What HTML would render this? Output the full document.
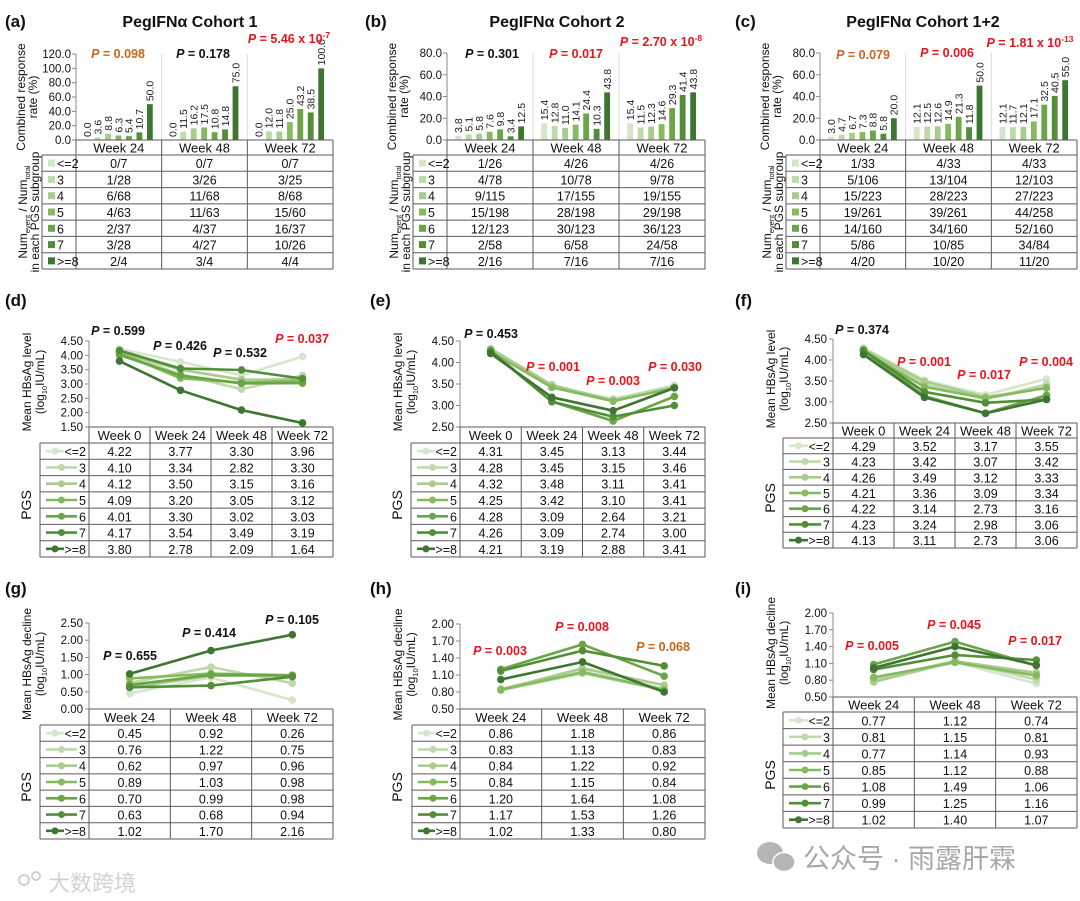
<!DOCTYPE html>
<html><head><meta charset="utf-8">
<style>
html,body{margin:0;padding:0;background:#fff;}
svg{display:block;font-family:"Liberation Sans","Noto Sans CJK SC",sans-serif;}
</style></head>
<body>
<svg id="fig" width="1080" height="901" viewBox="0 0 1080 901" xmlns="http://www.w3.org/2000/svg"></svg>
<script>
// ---------- shared categories ----------
const groups = ['<=2','3','4','5','6','7','>=8'];
const weeks3 = ['Week 24','Week 48','Week 72'];
const weeks4 = ['Week 0','Week 24','Week 48','Week 72'];

// ---------- panel (a) ----------
const aWk24 = [0.0,3.6,8.8,6.3,5.4,10.7,50.0];
const aWk48 = [0.0,11.5,16.2,17.5,10.8,14.8,75.0];
const aWk72 = [0.0,12.0,11.8,25.0,43.2,38.5,100.0];
const aCnt24 = ['0/7','1/28','6/68','4/63','2/37','3/28','2/4'];
const aCnt48 = ['0/7','3/26','11/68','11/63','4/37','4/27','3/4'];
const aCnt72 = ['0/7','3/25','8/68','15/60','16/37','10/26','4/4'];
const aTicks = [0,20,40,60,80,100,120];
// ---------- panel (b) ----------
const bWk24 = [3.8,5.1,5.8,7.6,9.8,3.4,12.5];
const bWk48 = [15.4,12.8,11.0,14.1,24.4,10.3,43.8];
const bWk72 = [15.4,11.5,12.3,14.6,29.3,41.4,43.8];
const bCnt24 = ['1/26','4/78','9/115','15/198','12/123','2/58','2/16'];
const bCnt48 = ['4/26','10/78','17/155','28/198','30/123','6/58','7/16'];
const bCnt72 = ['4/26','9/78','19/155','29/198','36/123','24/58','7/16'];
const bTicks = [0,20,40,60,80];
// ---------- panel (c) ----------
const cWk24 = [3.0,4.7,6.7,7.3,8.8,5.8,20.0];
const cWk48 = [12.1,12.5,12.6,14.9,21.3,11.8,50.0];
const cWk72 = [12.1,11.7,12.1,17.1,32.5,40.5,55.0];
const cCnt24 = ['1/33','5/106','15/223','19/261','14/160','5/86','4/20'];
const cCnt48 = ['4/33','13/104','28/223','39/261','34/160','10/85','10/20'];
const cCnt72 = ['4/33','12/103','27/223','44/258','52/160','34/84','11/20'];
const cTicks = [0,20,40,60,80];
// ---------- panel (d) HBsAg level cohort 1 (rows = PGS groups) ----------
const dVals = [[4.22,3.77,3.30,3.96],[4.10,3.34,2.82,3.30],[4.12,3.50,3.15,3.16],[4.09,3.20,3.05,3.12],[4.01,3.30,3.02,3.03],[4.17,3.54,3.49,3.19],[3.80,2.78,2.09,1.64]];
const dTicks = [1.5,2.0,2.5,3.0,3.5,4.0,4.5];
// ---------- panel (e) ----------
const eVals = [[4.31,3.45,3.13,3.44],[4.28,3.45,3.15,3.46],[4.32,3.48,3.11,3.41],[4.25,3.42,3.10,3.41],[4.28,3.09,2.64,3.21],[4.26,3.09,2.74,3.00],[4.21,3.19,2.88,3.41]];
const eTicks = [2.5,3.0,3.5,4.0,4.5];
// ---------- panel (f) ----------
const fVals = [[4.29,3.52,3.17,3.55],[4.23,3.42,3.07,3.42],[4.26,3.49,3.12,3.33],[4.21,3.36,3.09,3.34],[4.22,3.14,2.73,3.16],[4.23,3.24,2.98,3.06],[4.13,3.11,2.73,3.06]];
const fTicks = [2.5,3.0,3.5,4.0,4.5];
// ---------- panel (g) HBsAg decline ----------
const gVals = [[0.45,0.92,0.26],[0.76,1.22,0.75],[0.62,0.97,0.96],[0.89,1.03,0.98],[0.70,0.99,0.98],[0.63,0.68,0.94],[1.02,1.70,2.16]];
const gTicks = [0,0.5,1.0,1.5,2.0,2.5];
// ---------- panel (h) ----------
const hVals = [[0.86,1.18,0.86],[0.83,1.13,0.83],[0.84,1.22,0.92],[0.84,1.15,0.84],[1.20,1.64,1.08],[1.17,1.53,1.26],[1.02,1.33,0.80]];
const hTicks = [0.5,0.8,1.1,1.4,1.7,2.0];
// ---------- panel (i) ----------
const iVals = [[0.77,1.12,0.74],[0.81,1.15,0.81],[0.77,1.14,0.93],[0.85,1.12,0.88],[1.08,1.49,1.06],[0.99,1.25,1.16],[1.02,1.40,1.07]];
const iTicks = [0.5,0.8,1.1,1.4,1.7,2.0];

const GREENS = ['#d6e6cc','#bfd9ac','#a7cc8e','#86ba5f','#6aa546','#528e38','#3f7532'];
const RED = '#e8141b', ORANGE = '#c8651b', BLACK = '#111';
const svg = document.getElementById('fig');
const NS = 'http://www.w3.org/2000/svg';

function mk(tag, attrs, parent) {
  const e = document.createElementNS(NS, tag);
  for (const k in attrs) e.setAttribute(k, attrs[k]);
  (parent || svg).appendChild(e);
  return e;
}
function line(x1,y1,x2,y2,col,w,parent,name){
  const l = mk('line',{x1:x1,y1:y1,x2:x2,y2:y2,stroke:col,'stroke-width':w},parent);
  
  
  return l;
}
function text(x,y,s,size,parent,name,extra){
  const a = {x:x,y:y,'font-size':size,fill:'#111'};
  for (const k in (extra||{})) a[k]=extra[k];
  const t = mk('text',a,parent);
  t.textContent = s;
  
  
  return t;
}
function pLabel(parent,cx,cy,val,col,exp){
  const t = mk('text',{x:cx,y:cy+4,'font-size':12.5,'font-weight':'bold',fill:col,'text-anchor':'middle'},parent);
  
  
  const p = mk('tspan',{'font-style':'italic'},t); p.textContent='P';
  const r = mk('tspan',{},t); r.textContent=' = '+val;
  if (exp){ const s = mk('tspan',{'font-size':8.5,dy:-5},t); s.textContent=exp; }
}
function rotText(parent,x,y,s,size,name){
  const t = mk('text',{x:0,y:0,'font-size':size,fill:'#111','text-anchor':'middle',transform:'translate('+x+','+y+') rotate(-90)'},parent);
  t.textContent = s;
  
  
  return t;
}
function panelHeader(letter,lx,ly,title,tx){
  text(lx,ly,'('+letter+')',17,svg,'panel-letter-'+letter,{'font-weight':'bold'});
  if (title) text(tx,ly,title,16,svg,'panel-title-'+letter,{'font-weight':'bold','text-anchor':'middle'});
}

// ---------- bar panel ----------
function drawBar(P){
  const g = mk('g',{});
  
  
  const ymax = P.ticks[P.ticks.length-1];
  const ys = v => P.bot - v/ymax*(P.bot-P.top);
  const colW = (P.right-P.ax)/3;
  for (let w=1; w<3; w++) line(P.ax+w*colW,P.top,P.ax+w*colW,P.bot,'#dcdcdc',1,g,'column-gridline');
  line(P.ax,P.top,P.ax,P.bot,'#8a8a8a',1,g,'y-axis-line');
  P.ticks.forEach(v=>{
    line(P.ax-4,ys(v),P.ax,ys(v),'#8a8a8a',1,g,'y-tick');
    text(P.ax-5,ys(v)+4,v.toFixed(1),11.5,g,'y-tick-label',{'text-anchor':'end'});
  });
  P.rates.forEach((arr,w)=>{
    arr.forEach((v,i)=>{
      const xc = P.ax + w*colW + colW*(0.13 + i*0.122);
      const bw = colW*0.068;
      const r = mk('rect',{x:xc-bw/2,y:ys(v),width:bw,height:Math.max(0,P.bot-ys(v)),fill:GREENS[i]},g);
      
      
      const t = mk('text',{x:0,y:0,'font-size':10.5,fill:'#222','text-anchor':'start',transform:'translate('+(xc+3.8)+','+(ys(v)-3)+') rotate(-90)'},g);
      t.textContent = v.toFixed(1);
      
      
    });
  });
  const tc = '#5a5a5a';
  const rowH = (P.rowsBot-P.hdrBot)/7;
  line(P.ax,P.bot,P.right,P.bot,tc,1,g,'x-axis-line');
  line(P.legX,P.hdrBot,P.right,P.hdrBot,tc,1,g,'table-row-line');
  for (let r=1;r<=7;r++) line(P.legX,P.hdrBot+r*rowH,P.right,P.hdrBot+r*rowH,tc,1,g,'table-row-line');
  line(P.legX,P.hdrBot,P.legX,P.rowsBot,tc,1,g,'table-col-line');
  for (let w=0; w<=3; w++) line(P.ax+w*colW,P.bot,P.ax+w*colW,P.rowsBot,tc,1,g,'table-col-line');
  weeks3.forEach((wk,w)=>text(P.ax+(w+0.5)*colW,(P.bot+P.hdrBot)/2+5,wk,13,g,'week-header',{'text-anchor':'middle'}));
  groups.forEach((gr,i)=>{
    const yc = P.hdrBot+(i+0.5)*rowH;
    const s = mk('rect',{x:P.legX+6,y:yc-3.5,width:7,height:7,fill:GREENS[i]},g);
    
    
    text(P.legX+15,yc+5,gr,12.5,g,'legend-label');
    P.counts.forEach((col,w)=>text(P.ax+(w+0.5)*colW,yc+5,col[i],12.5,g,'count-cell',{'text-anchor':'middle'}));
  });
  rotText(g,P.ax-51,(P.top+P.bot)/2,'Combined response',12,'y-axis-title');
  rotText(g,P.ax-39,(P.top+P.bot)/2,'rate (%)',12,'y-axis-title');
  const t1 = mk('text',{x:0,y:0,'font-size':12,fill:'#111','text-anchor':'middle',transform:'translate('+(P.legX-15)+','+((P.hdrBot+P.rowsBot)/2)+') rotate(-90)'},g);
  
  
  const s1=mk('tspan',{},t1); s1.textContent='Num';
  const s2=mk('tspan',{'font-size':7.5,dy:3},t1); s2.textContent='event';
  const s3=mk('tspan',{dy:-3},t1); s3.textContent=' / Num';
  const s4=mk('tspan',{'font-size':7.5,dy:3},t1); s4.textContent='total';
  rotText(g,P.legX-3,(P.hdrBot+P.rowsBot)/2,'in each PGS subgroup',12,'table-side-title');
  P.pv.forEach(p=>pLabel(g,p[0],p[1],p[2],p[3],p[4]));
}

// ---------- line panel ----------
function drawLine(P){
  const g = mk('g',{});
  
  
  const ymin = P.ticks[0], ymax = P.ticks[P.ticks.length-1];
  const ys = v => P.bot - (v-ymin)/(ymax-ymin)*(P.bot-P.top);
  const n = P.cats.length;
  const colW = (P.right-P.ax)/n;
  const xs = j => P.ax + (j+0.5)*colW;
  line(P.ax,P.top,P.ax,P.bot,'#8a8a8a',1,g,'y-axis-line');
  P.ticks.forEach(v=>{
    line(P.ax-4,ys(v),P.ax,ys(v),'#8a8a8a',1,g,'y-tick');
    text(P.ax-6,ys(v)+4,v.toFixed(2),11.5,g,'y-tick-label',{'text-anchor':'end'});
  });
  P.vals.forEach((arr,i)=>{
    const pts = arr.map((v,j)=>xs(j).toFixed(1)+','+ys(v).toFixed(1)).join(' ');
    const pl = mk('polyline',{points:pts,fill:'none',stroke:GREENS[i],'stroke-width':2.6,'stroke-linejoin':'round'},g);
    
    
    arr.forEach((v,j)=>{
      const c = mk('circle',{cx:xs(j),cy:ys(v),r:3.8,fill:GREENS[i]},g);
      
      
    });
  });
  const tc = '#5a5a5a';
  const rowH = (P.rowsBot-P.hdrBot)/7;
  line(P.ax,P.bot,P.right,P.bot,tc,1,g,'x-axis-line');
  line(P.legX,P.hdrBot,P.right,P.hdrBot,tc,1,g,'table-row-line');
  for (let r=1;r<=7;r++) line(P.legX,P.hdrBot+r*rowH,P.right,P.hdrBot+r*rowH,tc,1,g,'table-row-line');
  line(P.legX,P.hdrBot,P.legX,P.rowsBot,tc,1,g,'table-col-line');
  for (let w=0; w<=n; w++) line(P.ax+w*colW,P.bot,P.ax+w*colW,P.rowsBot,tc,1,g,'table-col-line');
  P.cats.forEach((wk,w)=>text(xs(w),(P.bot+P.hdrBot)/2+5,wk,13,g,'week-header',{'text-anchor':'middle'}));
  groups.forEach((gr,i)=>{
    const yc = P.hdrBot+(i+0.5)*rowH;
    const lx1 = P.legX+6, lx2 = P.ax-(gr.length>1?25:12);
    line(lx1,yc,lx2,yc,GREENS[i],2.6,g,'legend-line');
    const c = mk('circle',{cx:(lx1+lx2)/2,cy:yc,r:3.5,fill:GREENS[i]},g);
    
    
    text(P.ax-3,yc+5,gr,12.5,g,'legend-label',{'text-anchor':'end'});
    P.vals[i].forEach((v,j)=>text(xs(j),yc+5,v.toFixed(2),12.5,g,'value-cell',{'text-anchor':'middle'}));
  });
  rotText(g,P.ax-58,(P.top+P.bot)/2-2,P.title1,12,'y-axis-title');
  const t = mk('text',{x:0,y:0,'font-size':12,fill:'#111','text-anchor':'middle',transform:'translate('+(P.ax-45)+','+((P.top+P.bot)/2-2)+') rotate(-90)'},g);
  
  
  const a1=mk('tspan',{},t); a1.textContent='(log';
  const a2=mk('tspan',{'font-size':7.5,dy:3},t); a2.textContent='10';
  const a3=mk('tspan',{dy:-3},t); a3.textContent='IU/mL)';
  rotText(g,P.ax-58,(P.hdrBot+P.rowsBot)/2+5,'PGS',14,'table-side-title');
  P.pv.forEach(p=>pLabel(g,p[0],p[1],p[2],p[3],p[4]));
}

panelHeader('a',5,27,'PegIFNα Cohort 1',190);
panelHeader('b',365,27,'PegIFNα Cohort 2',557);
panelHeader('c',735,27,'PegIFNα Cohort 1+2',923);
panelHeader('d',5,306);
panelHeader('e',370,306);
panelHeader('f',735,306);
panelHeader('g',5,594);
panelHeader('h',370,594);
panelHeader('i',735,594);

drawBar({id:'a',ax:76,right:333,top:54,bot:140,legX:42,hdrBot:155,rowsBot:269,ticks:aTicks,
  rates:[aWk24,aWk48,aWk72],counts:[aCnt24,aCnt48,aCnt72],
  pv:[[118,54,'0.098',ORANGE],[203,54,'0.178',BLACK],[289,39,'5.46 x 10',RED,'-7']]});
drawBar({id:'b',ax:447,right:705,top:53,bot:140,legX:413,hdrBot:155,rowsBot:269,ticks:bTicks,
  rates:[bWk24,bWk48,bWk72],counts:[bCnt24,bCnt48,bCnt72],
  pv:[[492,54,'0.301',BLACK],[576,54,'0.017',RED],[661,42,'2.70 x 10',RED,'-8']]});
drawBar({id:'c',ax:820,right:1077,top:53,bot:140,legX:786,hdrBot:155,rowsBot:269,ticks:cTicks,
  rates:[cWk24,cWk48,cWk72],counts:[cCnt24,cCnt48,cCnt72],
  pv:[[863,55,'0.079',ORANGE],[947,53,'0.006',RED],[1030,43,'1.81 x 10',RED,'-13']]});

drawLine({id:'d',ax:89,right:333,top:341,bot:427,legX:40,hdrBot:443,rowsBot:557,ticks:dTicks,cats:weeks4,vals:dVals,title1:'Mean HBsAg level',
  pv:[[118,331,'0.599',BLACK],[180,346,'0.426',BLACK],[240,353,'0.532',BLACK],[302,339,'0.037',RED]]});
drawLine({id:'e',ax:460,right:705,top:341,bot:427,legX:411,hdrBot:443,rowsBot:557,ticks:eTicks,cats:weeks4,vals:eVals,title1:'Mean HBsAg level',
  pv:[[491,334,'0.453',BLACK],[553,367,'0.001',RED],[613,381,'0.003',RED],[675,367,'0.030',RED]]});
drawLine({id:'f',ax:833,right:1077,top:339,bot:423,legX:783,hdrBot:438,rowsBot:548,ticks:fTicks,cats:weeks4,vals:fVals,title1:'Mean HBsAg level',
  pv:[[862,330,'0.374',BLACK],[924,362,'0.001',RED],[984,375,'0.017',RED],[1046,362,'0.004',RED]]});
drawLine({id:'g',ax:89,right:333,top:623,bot:709,legX:40,hdrBot:725,rowsBot:839,ticks:gTicks,cats:weeks3,vals:gVals,title1:'Mean HBsAg decline',
  pv:[[130,656,'0.655',BLACK],[209,633,'0.414',BLACK],[292,620,'0.105',BLACK]]});
drawLine({id:'h',ax:460,right:705,top:624,bot:709,legX:412,hdrBot:725,rowsBot:839,ticks:hTicks,cats:weeks3,vals:hVals,title1:'Mean HBsAg decline',
  pv:[[500,651,'0.003',RED],[582,627,'0.008',RED],[663,647,'0.068',ORANGE]]});
drawLine({id:'i',ax:833,right:1077,top:613,bot:697,legX:783,hdrBot:712,rowsBot:828,ticks:iTicks,cats:weeks3,vals:iVals,title1:'Mean HBsAg decline',
  pv:[[872,646,'0.005',RED],[954,625,'0.045',RED],[1035,641,'0.017',RED]]});

// watermarks
const w1 = mk('ellipse',{cx:770,cy:853,rx:13,ry:11,fill:'#b5b5b5'});


const w2 = mk('ellipse',{cx:784,cy:862,rx:11,ry:9.5,fill:'#b5b5b5',stroke:'#fff','stroke-width':1.5});


text(803,868,'公众号 · 雨露肝霖',27,svg,'watermark-account',{fill:'#a8a8a8'});
const lg1 = mk('circle',{cx:24,cy:880,r:5,fill:'none',stroke:'#d0d0d0','stroke-width':2});


const lg2 = mk('circle',{cx:36,cy:876,r:4,fill:'none',stroke:'#d0d0d0','stroke-width':2});


text(48,891,'大数跨境',22,svg,'watermark-brand',{fill:'#d2d2d2'});
</script>
</body></html>
